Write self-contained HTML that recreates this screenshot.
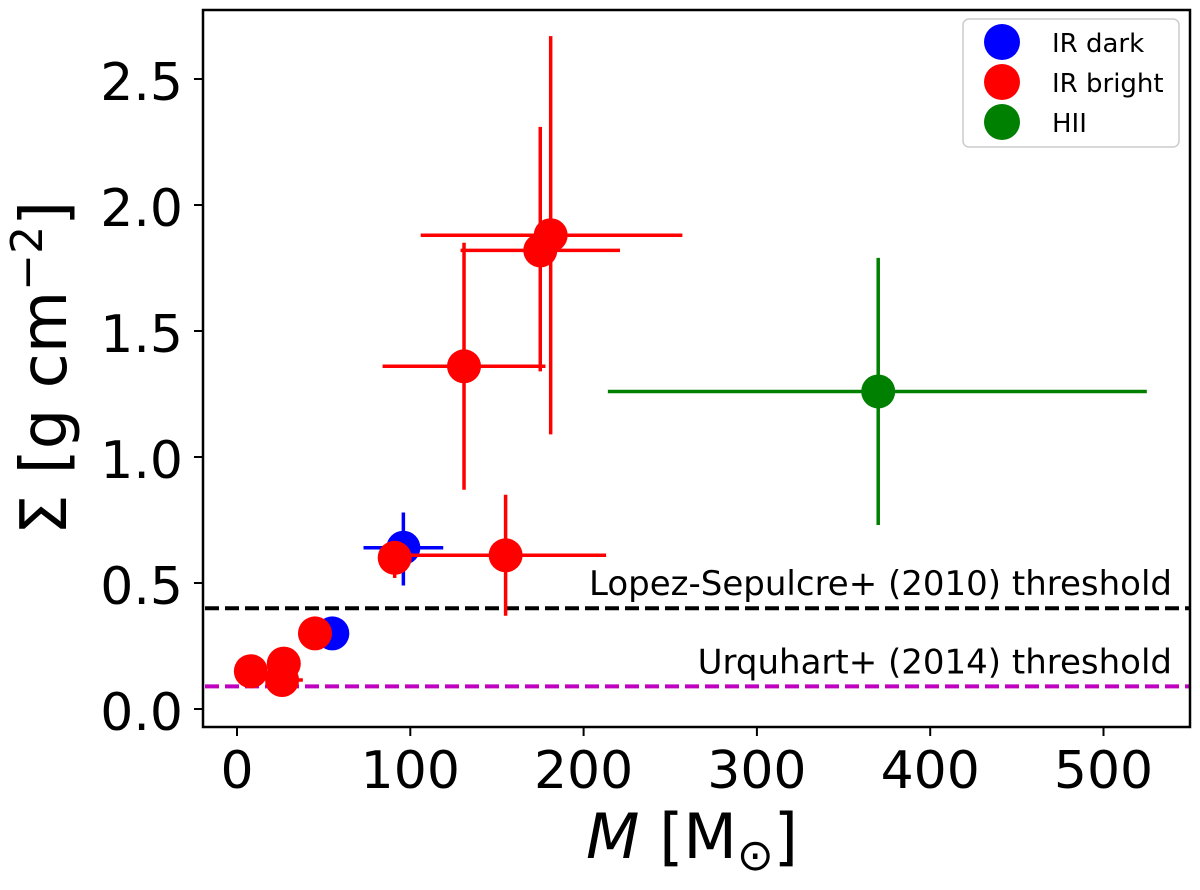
<!DOCTYPE html>
<html><head><meta charset="utf-8"><style>
html,body{margin:0;padding:0;background:#fff;}
svg{display:block;font-family:"DejaVu Sans","Liberation Sans",sans-serif;}
</style></head><body>
<svg id="chart" width="1200" height="890" viewBox="0 0 1200 890">
<rect x="205" y="10" width="985" height="717" fill="#fff"/>
<g id="thresholds"></g>
<g id="marks"></g>
<rect x="203" y="10" width="987" height="717" fill="none" stroke="#000" stroke-width="2.5"/>
<g id="axes"></g>
<g>
<rect x="963" y="19" width="216" height="128" rx="6" fill="#fff" stroke="#ccc" stroke-width="1.5"/>
<circle cx="1002" cy="42" r="18" fill="#0000ff"/>
<text x="1052" y="52" font-size="26">IR dark</text>
<circle cx="1002" cy="82" r="18" fill="#ff0000"/>
<text x="1052" y="92" font-size="26">IR bright</text>
<circle cx="1002" cy="122" r="18" fill="#008000"/>
<text x="1052" y="132" font-size="26">HII</text>
</g>
<text transform="translate(66,368) rotate(-90)" text-anchor="middle" font-size="64">Σ [g cm<tspan dy="-24" font-size="44">−2</tspan><tspan dy="24">]</tspan></text>
<text x="692" y="858" text-anchor="middle" font-size="62"><tspan font-style="italic">M</tspan> [M<tspan dy="12" font-size="44">⊙</tspan><tspan dy="-12">]</tspan></text>
</svg>
<script>
const xTicks=[0,100,200,300,400,500];
const yTicks=[0.0,0.5,1.0,1.5,2.0,2.5];
const yTickLabels=["0.0","0.5","1.0","1.5","2.0","2.5"];
const massValues=[96,55,91,155,45,8,27,26,131,175,181,370];
const sigmaValues=[0.64,0.30,0.60,0.61,0.30,0.15,0.18,0.115,1.36,1.82,1.88,1.26];
const massLow=[73,55,88,93,45,8,27,26,84,129,106,214];
const massHigh=[119,55,94,213,45,8,27,38,178,221,257,525];
const sigmaLow=[0.49,0.30,0.52,0.37,0.30,0.15,0.18,0.115,0.87,1.34,1.09,0.73];
const sigmaHigh=[0.78,0.30,0.62,0.85,0.30,0.15,0.18,0.115,1.85,2.31,2.67,1.79];
const pointKinds=["ir-dark","ir-dark","ir-bright","ir-bright","ir-bright","ir-bright","ir-bright","ir-bright","ir-bright","ir-bright","ir-bright","hii"];
const thresholdValues=[0.40,0.09];
const thresholdLabels=["Lopez-Sepulcre+ (2010) threshold","Urquhart+ (2014) threshold"];
const NS="http://www.w3.org/2000/svg";
const X=v=>237+v*1.733;
const Y=v=>709-v*252;
const colors={"ir-dark":"#0000ff","ir-bright":"#ff0000","hii":"#008000"};
function mk(tag,attrs,parent){const e=document.createElementNS(NS,tag);for(const k in attrs)e.setAttribute(k,attrs[k]);parent.appendChild(e);return e;}
const axes=document.getElementById('axes');
xTicks.forEach(t=>{
 const l=mk('line',{x1:X(t),x2:X(t),y1:727,y2:736,stroke:'#000','stroke-width':2},axes);
 
 
 const tx=mk('text',{x:X(t),y:788,'text-anchor':'middle','font-size':52},axes);
 tx.textContent=t;
 
 
});
yTicks.forEach((t,i)=>{
 const l=mk('line',{x1:194,x2:203,y1:Y(t),y2:Y(t),stroke:'#000','stroke-width':2},axes);
 
 
 const tx=mk('text',{x:183,y:Y(t)+21,'text-anchor':'end','font-size':52},axes);
 tx.textContent=yTickLabels[i];
 
 
});
const th=document.getElementById('thresholds');
const thColors=["#000","#bf00bf"];
thresholdValues.forEach((v,i)=>{
 const l=mk('line',{x1:205,x2:1190,y1:Y(v),y2:Y(v),stroke:thColors[i],'stroke-width':4,'stroke-dasharray':'14 6'},th);
 
 
 const tx=mk('text',{x:1172,y:Y(v)-13,'text-anchor':'end','font-size':34},th);
 tx.textContent=thresholdLabels[i];
 
 
});
const marks=document.getElementById('marks');
massValues.forEach((m,i)=>{
 const c=colors[pointKinds[i]];
 const g=mk('g',{},marks);
 
 
 mk('line',{x1:X(massLow[i]),x2:X(massHigh[i]),y1:Y(sigmaValues[i]),y2:Y(sigmaValues[i]),stroke:c,'stroke-width':3.5},g);
 mk('line',{x1:X(m),x2:X(m),y1:Y(sigmaLow[i]),y2:Y(sigmaHigh[i]),stroke:c,'stroke-width':3.5},g);
 mk('circle',{cx:X(m),cy:Y(sigmaValues[i]),r:17,fill:c},g);
});
</script>
</body></html>
